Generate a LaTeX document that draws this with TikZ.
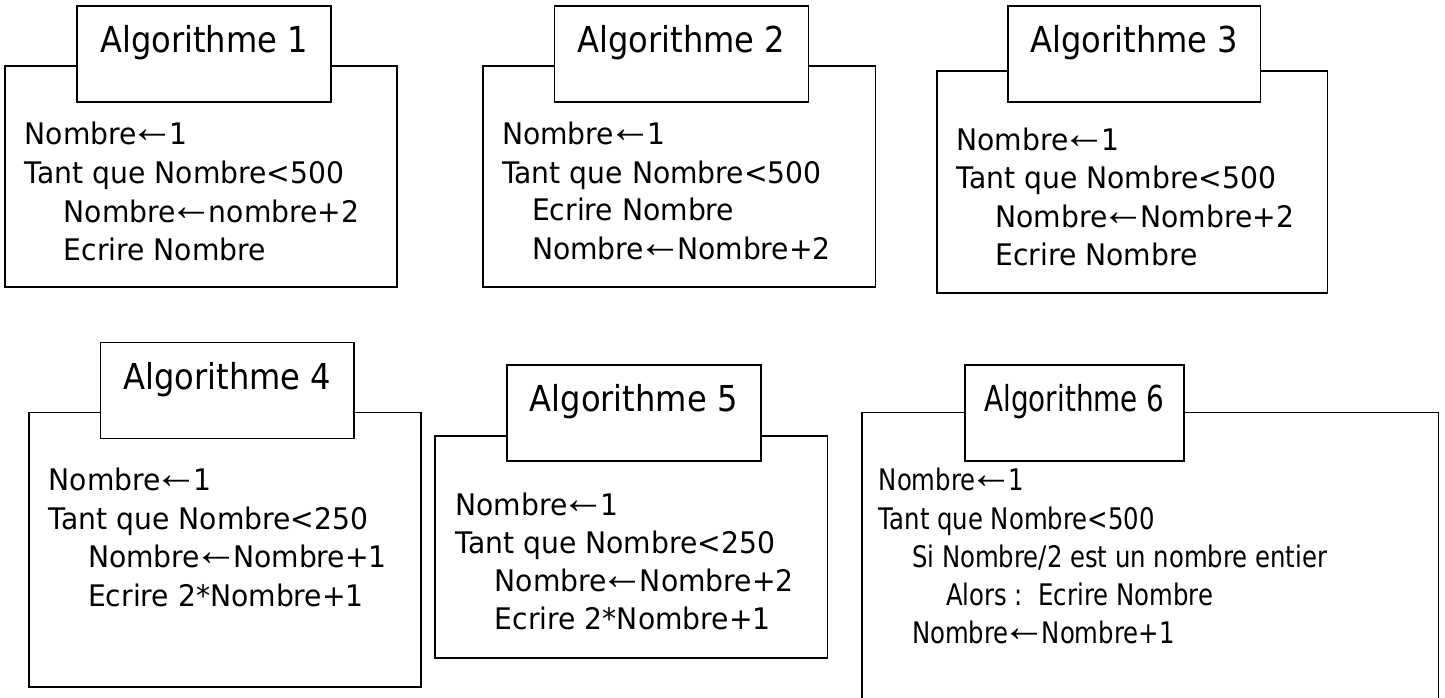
\documentclass[tikz,border=0pt]{standalone}
\usepackage{fontspec}
\setmainfont{DejaVu Sans}[FakeStretch=0.95]
\newfontfamily\titlefont{DejaVu Sans}[FakeStretch=0.9]
\newfontfamily\narrowfont{DejaVu Sans}[FakeStretch=0.82]
\newfontfamily\narrowtitlefont{DejaVu Sans}[FakeStretch=0.78]
\newfontfamily\flechefont{Liberation Sans}
\usepackage{tikz}
\newcommand{\fleche}{\kern-6pt\smash{\raisebox{2pt}{\flechefont\fontsize{44}{44}\selectfont ←}}\kern-5pt}

\begin{document}
\begin{tikzpicture}[x=1pt,y=-1pt,line width=1.6pt]
        \tikzstyle{titlebox}=[draw=black,fill=white,inner xsep=0pt,inner ysep=21pt,text height=26pt,text depth=28pt,font=\titlefont\fontsize{35.7}{40}\selectfont]
        \tikzstyle{code}=[inner sep=0pt,anchor=base west,font=\fontsize{29.7}{36}\selectfont]
        \tikzstyle{narrowcode}=[code,font=\narrowfont\fontsize{29.7}{36}\selectfont]
        \useasboundingbox (0,0) rectangle (1445,698);

        % cadres
        \foreach \xa/\ya/\xb/\yb in {5/66/397/287, 482.7/66/875.3/287, 936.7/71/1327.3/292.7, 29/412.3/421/686.7, 435/436/827.3/657.7}
                \draw (\xa,\ya) rectangle (\xb,\yb);
        \draw (861.7,698) -- (861.7,412.5) -- (1438.3,412.5) -- (1438.3,698);

        % titres
        \foreach \num/\x/\y/\w in {1/204/53/254, 2/681.3/53/254, 3/1134.2/53/252.3, 4/227.3/389.3/253.3, 5/633.7/411.7/254}
                \node[titlebox,minimum width=\w pt,anchor=base] (T-\num) at (\x,\y) {Algorithme \num};
        \node[titlebox,font=\narrowtitlefont\fontsize{35.7}{40}\selectfont,minimum width=219pt,anchor=base] (T-6) at (1074.5,411.7) {Algorithme 6};

        % algorithme 1
        \node[code] (A1-1) at (24,145) {Nombre\fleche 1};
        \node[code] (A1-2) at (24,183) {Tant que Nombre<500};
        \node[code] (A1-3) at (63,222) {Nombre\fleche nombre+2};
        \node[code] (A1-4) at (63,260) {Ecrire Nombre};

        % algorithme 2
        \node[code] (A2-1) at (501.3,145) {Nombre\fleche 1};
        \node[code] (A2-2) at (501.3,183) {Tant que Nombre<500};
        \node[code] (A2-3) at (531.3,220) {Ecrire Nombre};
        \node[code] (A2-4) at (531.3,259) {Nombre\fleche Nombre+2};

        % algorithme 3
        \node[code] (A3-1) at (955.7,150) {Nombre\fleche 1};
        \node[code] (A3-2) at (955.7,188) {Tant que Nombre<500};
        \node[code] (A3-3) at (994.7,227.7) {Nombre\fleche Nombre+2};
        \node[code] (A3-4) at (994.7,265.7) {Ecrire Nombre};

        % algorithme 4
        \node[code] (A4-1) at (48,490.7) {Nombre\fleche 1};
        \node[code] (A4-2) at (48,529.3) {Tant que Nombre<250};
        \node[code] (A4-3) at (87.3,567.7) {Nombre\fleche Nombre+1};
        \node[code] (A4-4) at (87.3,606) {Ecrire 2*Nombre+1};

        % algorithme 5
        \node[code] (A5-1) at (454.7,515) {Nombre\fleche 1};
        \node[code] (A5-2) at (454.7,553.3) {Tant que Nombre<250};
        \node[code] (A5-3) at (494,591.7) {Nombre\fleche Nombre+2};
        \node[code] (A5-4) at (494,629.3) {Ecrire 2*Nombre+1};

        % algorithme 6
        \node[narrowcode] (A6-1) at (878,490) {Nombre\fleche 1};
        \node[narrowcode] (A6-2) at (878,529.3) {Tant que Nombre<500};
        \node[narrowcode] (A6-3) at (911.3,567.3) {Si Nombre/2 est un nombre entier};
        \node[narrowcode] (A6-4) at (945.3,605) {Alors :\ \ Ecrire Nombre};
        \node[narrowcode] (A6-5) at (911.3,643.3) {Nombre\fleche Nombre+1};
\end{tikzpicture}
\end{document}
